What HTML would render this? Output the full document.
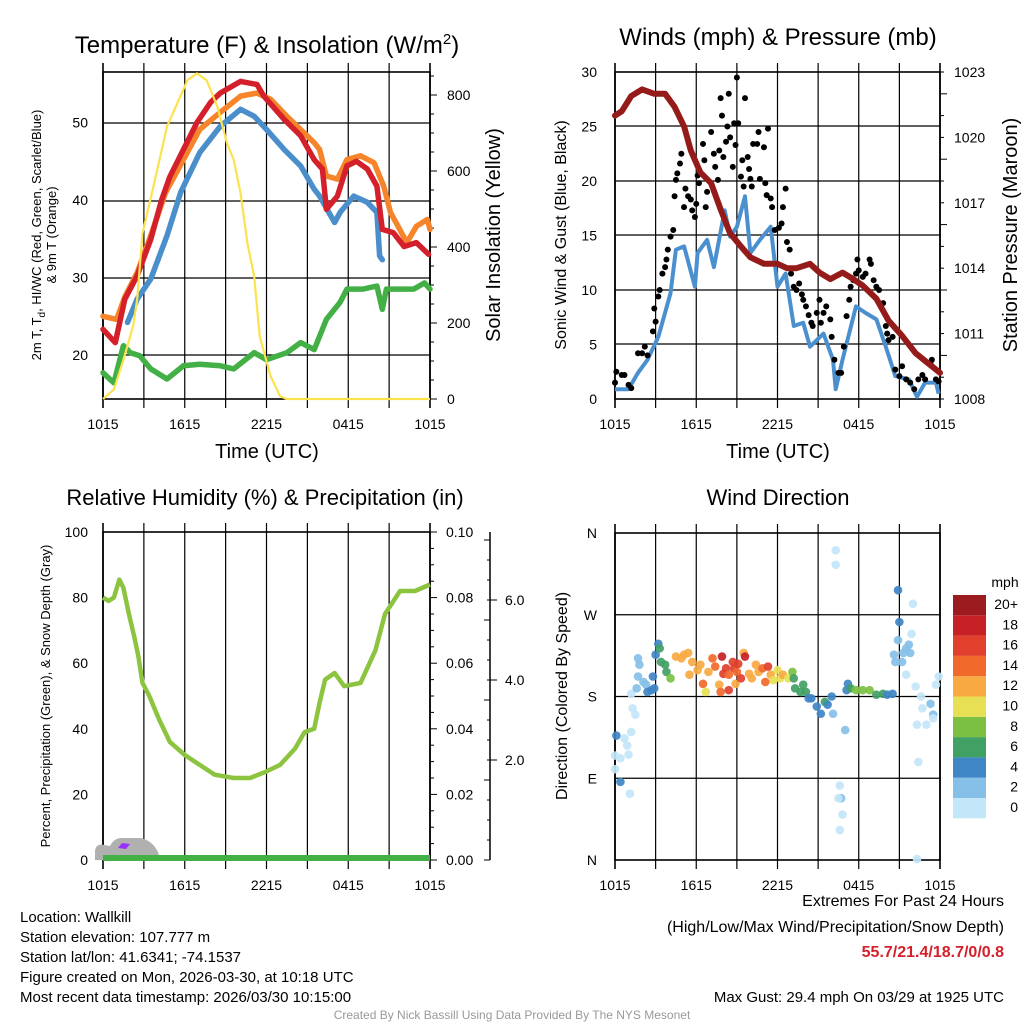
<!DOCTYPE html>
<html><head><meta charset="utf-8">
<style>
body{margin:0;background:#fff;}
svg{display:block;font-family:"Liberation Sans",Arial,sans-serif;}
</style></head>
<body>
<svg id="c" width="1024" height="1024" viewBox="0 0 1024 1024"></svg>
<script>
// ---------- DATA ----------
const tickHourLabels=["1015","1615","2215","0415","1015"];
const redHours=[0,0.9,1.6,2.5,3.5,4.3,4.9,5.9,6.9,7.9,8.6,10.1,11.3,11.8,13.3,14.5,15.5,16.1,16.4,17.2,17.9,18.6,19.4,20.1,20.5,21.3,22.1,23,23.9];
const redTemp=[23.3,21.6,27.2,30.2,34.9,40,43,46.5,50,52.6,53.8,55.3,54.9,53.4,50.4,48.3,45.2,44,38.8,40.5,44.4,45,44,41.8,36.2,35.8,34,34.5,33];
const orangeHours=[0,1,1.6,2.5,3.5,4.6,5.9,7.1,8.6,10.1,11.3,12.3,13.5,14.5,15.5,15.9,16.4,17.2,17.9,18.9,19.9,20.6,21.1,22.3,23,23.8,24];
const orangeTemp=[25,24.6,27.5,30.6,35.4,41,45.2,49.1,51.3,53.4,53.8,53,50.8,49.1,47.4,46.5,43.1,42.7,45.2,45.7,44.8,41.8,38.4,34.5,36.6,37.5,36.2];
const blueHours=[1.8,2.5,3.5,4.7,5.7,7.1,8.6,10.1,11.1,12,13.3,14.5,15.5,15.9,17,17.4,18.4,19.4,20.1,20.3,20.5];
const blueTemp=[24.2,27.2,29.8,35.4,41,46.1,49.5,51.7,50.8,49.1,46.5,44.4,41.4,40.5,37.1,38.4,40.5,39.7,38.4,32.8,32.3];
const greenHours=[0,0.8,1.5,2,2.7,3.5,4.7,5.9,7.1,8.6,9.6,11.1,12,13.5,14.5,15.5,16.4,17.4,17.9,19.1,20.1,20.5,20.8,21.8,22.8,23.6,24];
const greenTemp=[17.7,16.4,21.2,20.3,19.9,18.2,16.9,18.6,18.8,18.6,18.2,20.3,19.4,20.3,21.6,20.7,24.6,26.8,28.5,28.5,28.9,25.9,28.5,28.5,28.5,29.3,28.5];
const solarHours=[0,0.8,1.5,2.2,2.5,2.9,3.7,4.7,6.2,6.9,7.6,8.4,9.1,9.6,10.1,10.6,11.1,11.5,12.3,13,13.5,24];
const solarVals=[0,25,103,191,260,436,559,717,839,857,839,769,673,629,541,410,322,165,60,7,0,0];
const windHours=[0,1,1.7,2.4,3.2,4.1,4.5,5.1,5.9,6.1,6.8,7.3,8.1,8.5,9,9.6,10,10.7,11.5,12,12.6,13.2,13.9,14.4,15.4,16.1,16.3,16.8,17.8,18.5,19.3,20,20.7,21.7,22.3,22.9,23.7,23.9];
const windVals=[0.9,0.9,2.4,3.6,5.7,9.7,13.7,14,10.3,13.4,14.6,12.1,17.3,14.9,15.8,18.6,13.4,14.6,15.8,10.3,11.5,6.7,7,4.8,6,3.6,0.9,3.6,8.5,7.9,7.3,4.8,2.1,1.8,0.2,1.5,1.5,0.5];
const gustHours=[0,0.1,0.5,0.7,1,1.2,1.7,2,2.2,2.4,2.8,2.9,3,3.2,3.3,3.5,3.7,3.8,3.9,4.1,4.3,4.4,4.5,4.6,4.8,4.9,5.1,5.2,5.4,5.6,5.7,5.9,6,6.1,6.2,6.5,6.6,6.7,6.8,7.1,7.3,7.4,7.6,7.7,7.8,7.9,8,8.2,8.3,8.4,8.5,8.7,8.8,8.9,9,9.1,9.3,9.4,9.5,9.6,9.8,9.9,10,10.1,10.2,10.5,10.6,10.7,11,11.1,11.2,11.3,11.5,11.6,11.8,12.1,12.3,12.4,12.6,12.7,12.9,13,13.2,13.4,13.6,13.8,13.9,14.1,14.3,14.5,14.6,14.9,15.1,15.2,15.4,15.6,15.9,16,16.2,16.5,16.7,16.9,17.1,17.3,17.4,17.6,17.8,17.9,18,18.3,18.5,18.8,18.9,19.1,19.3,19.5,19.8,20,20.1,20.2,20.5,20.7,21,21.2,21.5,21.8,22.1,22.4,22.7,22.9,23.3,23.4,23.7,23.9];
const gustVals=[1.5,2.5,2.2,2.2,1.3,1,4.2,4.2,4.8,4,6.2,8.3,7.1,9.4,10,11.5,12.1,12.8,13.7,14.9,15.5,18.6,20.1,20.7,21.6,22.5,17.6,19.3,18.6,18.3,17.3,16.7,17.9,20.5,19.8,23.4,21.9,17.6,19,24.5,22.5,21.3,20.1,22.8,27.6,26,22.2,23.6,25,28,24,21.3,25.3,23.3,29.5,25.3,20.4,21.9,19.5,27.6,22.2,21.1,20.2,19.5,23.4,23.4,24.5,20.2,23.1,19.8,18.7,24.8,18.4,17.6,15.5,15.7,16.1,17.6,19.3,14.4,13.7,11.5,10.3,10,10.6,9.6,9.1,8.5,7.7,7,6.7,7.9,9.1,7,7.9,8.5,7.3,5.7,3.6,2.4,2.4,4.8,7.6,9.1,10.3,10.9,11.5,12.8,11.8,11.2,11.5,12.8,12.4,10.9,10.3,10,8.8,6.7,6,5.4,5.7,2.7,2.1,3,1.8,1.5,0.9,1.8,2.2,1.8,3.3,3.6,1.8,1.6];
const presHours=[0,0.5,1.2,2,2.9,3.7,4.4,5.1,5.6,6.3,7.1,7.8,8.5,9.3,10,11,12,12.7,13.4,14.4,15.1,15.9,16.8,17.6,18.3,19.3,20.2,21.2,22.2,23.2,24];
const presVals=[1021,1021.2,1021.9,1022.2,1022,1022,1021.4,1020.5,1019.4,1018.4,1017.9,1016.7,1015.6,1015,1014.5,1014.2,1014.2,1014,1014,1014.2,1013.8,1013.5,1013.8,1013.5,1013.2,1012.6,1011.6,1010.9,1010.1,1009.6,1009.2];
const rhHours=[0,0.4,0.8,1.2,1.5,1.9,2.3,2.6,2.9,3.4,4.1,4.9,6,7.1,8.2,9.6,10.8,12,13,14.1,14.8,15.5,15.9,16.3,17,17.7,18.9,20,20.7,21.8,22.9,24];
const rhVals=[80,79,80,85.5,83,75,68,62,54,50,43,36,32,29,26,25,25,27,29,34,39,40,48,55,57,53,54,64,75,82,82,84];
const dirHours=[0,0.1,0.4,1.1,0,0.4,0.7,0.9,1,1.2,1.3,1.5,1.2,1.6,1.7,1.8,1.7,2.1,2.3,2.4,2.7,2.8,2.9,3,3.2,3.3,3.4,3.7,3.8,4.1,4.5,4.9,5.1,5.4,5.5,5.7,6.1,6.3,6.5,6.7,6.9,7.2,7.4,7.7,7.8,7.9,8,8.2,8.4,8.4,8.7,8.8,8.9,9,9.1,9.3,9.5,9.6,9.9,10.1,10.4,10.6,10.9,11.1,11.3,11.5,11.7,12,12.2,12.4,12.8,13.1,13.2,13.3,13.7,13.9,14.1,14.3,14.5,14.9,15.2,15.5,15.7,16,16.1,16.3,16.3,17,16.6,16.7,16.8,16.6,16.5,17.2,17.1,17.4,17.8,18.3,18.8,19.3,19.8,20.1,20.5,20.9,21,20.9,20.6,20.7,21.3,21.2,21.5,21.8,21.7,22,21.9,21.5,22.2,22.6,22.7,22.3,23,23.3,23.5,23.7,23.9,22.4,22.3,23.5];
const dirDeg=[100,137,86,73,115,112,134,126,116,141,167,160,183,189,222,215,202,196,193,185,187,202,189,226,238,233,218,215,207,200,224,222,226,228,204,218,209,215,194,185,207,222,213,193,185,224,205,211,204,187,218,211,194,207,216,200,228,224,205,200,215,207,211,196,213,204,198,209,200,204,200,207,200,189,185,193,185,178,178,169,161,174,171,180,161,341,325,143,82,68,50,33,68,194,187,189,187,187,187,182,183,182,183,297,262,242,226,218,228,218,233,228,237,282,249,204,191,180,167,149,149,172,160,193,202,108,1,156];
const dirSpeed=[1,4,4,1,1,1,1,1,1,1,1,1,1,2,3,3,3,3,3,4,4,4,4,4,4,6,6,6,7,9,13,12,13,12,12,13,12,13,14,10,13,14,14,12,14,18,16,16,14,16,16,17,13,14,16,16,13,18,12,13,13,13,14,14,16,12,10,10,10,12,10,8,6,6,7,6,6,4,4,5,4,6,5,4,3,1,1,3,1,3,1,1,1,4,4,7,8,8,8,6,7,4,4,4,4,3,3,2,3,3,2,2,2,1,1,1,1,1,1,1,1,3,3,1,1,1,1,1];
const speedLabels=["0","2","4","6","8","10","12","14","16","18","20+"];
const speedColors=["#c3e6f8","#86c0e8","#3f86c6","#41a064","#7bc043","#e8e054","#f9a942","#f16a2b","#e0402c","#c62127","#9b1b1e"];

// ---------- HELPERS ----------
const NS="http://www.w3.org/2000/svg";
const svg=document.getElementById('c');
function el(tag,attrs,parent){const e=document.createElementNS(NS,tag);for(const k in attrs)e.setAttribute(k,attrs[k]);(parent||svg).appendChild(e);return e;}
function txt(x,y,s,size,anchor,parent,extra){const t=el('text',Object.assign({x:x,y:y,'font-size':size,'text-anchor':anchor||'middle',fill:'#000'},extra||{}),parent);t.textContent=s;return t;}
function mkX(L,R){return h=>L+(R-L)*h/24;}
function mkY(v0,v1,yb,yt){return v=>yb-(v-v0)*(yb-yt)/(v1-v0);}
function path(xs,ys,fx,fy){return xs.map((h,i)=>(i?'L':'M')+fx(h).toFixed(1)+','+fy(ys[i]).toFixed(1)).join('');}
function frame(g,L,R,T,B,hlines){
  for(let i=1;i<8;i++){const x=L+(R-L)*i/8;const l=el('line',{x1:x,x2:x,y1:T-9,y2:B+9,stroke:'#000','stroke-width':1.2},g);}
  hlines.forEach(y=>{const l=el('line',{x1:L,x2:R,y1:y,y2:y,stroke:'#000','stroke-width':1.2},g);});
  const r=el('rect',{x:L,y:T,width:R-L,height:B-T,fill:'none',stroke:'#000','stroke-width':1.6},g);
  
  [L,R].forEach(x=>{el('line',{x1:x,x2:x,y1:T-9,y2:B+9,stroke:'#000','stroke-width':1.6},g);});
  tickHourLabels.forEach((s,i)=>{const t=txt(L+(R-L)*i/4,B+30,s,14,'middle',g);});
}

// ---------- PANEL 1: Temperature ----------
(function(){
  const g=el('g',{});
  const L=103,R=430,T=72,B=399;
  const fx=mkX(L,R), fy=mkY(20,50,355,122.5), fs=mkY(0,800,399,95);
  frame(g,L,R,T,B,[123,201,278,355]);
  [20,30,40,50].forEach(v=>{const t=txt(88,fy(v)+5,String(v),14,'end',g);});
  [0,200,400,600,800].forEach(v=>{const y=fs(v);el('line',{x1:R,x2:R+7,y1:y,y2:y,stroke:'#000'},g);const t=txt(447,y+5,String(v),14,'start',g);});
  for(let v=50;v<=850;v+=50){const y=fs(v);el('line',{x1:R,x2:R+4,y1:y,y2:y,stroke:'#000'},g);}
  const series=[[greenHours,greenTemp,'#43b046','green-temp-line'],[blueHours,blueTemp,'#4a8fcb','blue-temp-line'],[orangeHours,orangeTemp,'#f5842b','orange-temp-line'],[redHours,redTemp,'#d4202a','red-temp-line']];
  series.forEach(s=>{const p=el('path',{d:path(s[0],s[1],fx,fy),fill:'none',stroke:s[2],'stroke-width':5.5,'stroke-linejoin':'round','stroke-linecap':'round'},g);});
  const sp=el('path',{d:path(solarHours,solarVals,fx,fs),fill:'none',stroke:'#fde24f','stroke-width':2.2},g);
  
  const t1=el('text',{x:267,y:53,'font-size':24,'text-anchor':'middle'},g);t1.innerHTML='Temperature (F) &amp; Insolation (W/m<tspan dy="-9" font-size="15">2</tspan><tspan dy="9">)</tspan>';
  
  const xt=txt(267,458,'Time (UTC)',20,'middle',g);
  const yl=el('text',{transform:'translate(41,235) rotate(-90)','font-size':13,'text-anchor':'middle'},g);yl.innerHTML='2m T, T<tspan dy="4" font-size="10">d</tspan><tspan dy="-4">, HI/WC (Red, Green, Scarlet/Blue)</tspan>';
  
  const yl2=el('text',{transform:'translate(56,235) rotate(-90)','font-size':13,'text-anchor':'middle'},g);yl2.textContent='& 9m T (Orange)';
  const yr=el('text',{transform:'translate(500,235) rotate(-90)','font-size':20,'text-anchor':'middle'},g);yr.textContent='Solar Insolation (Yellow)';
  
})();

// ---------- PANEL 2: Winds ----------
(function(){
  const g=el('g',{});
  const L=615,R=940,T=72,B=399;
  const fx=mkX(L,R), fy=mkY(0,30,399,72), fp=mkY(1008,1023,399,72);
  frame(g,L,R,T,B,[126,181,235,290,344]);
  [0,5,10,15,20,25,30].forEach(v=>{const t=txt(597,fy(v)+5,String(v),14,'end',g);});
  for(let v=1008;v<=1023;v++){const y=fp(v);el('line',{x1:R,x2:R+(v%3==2?7:4),y1:y,y2:y,stroke:'#000'},g);}
  [1008,1011,1014,1017,1020,1023].forEach(v=>{const t=txt(954,fp(v)+5,String(v),14,'start',g);});
  const wp=el('path',{d:path(windHours,windVals,fx,fy),fill:'none',stroke:'#4a90cf','stroke-width':4,'stroke-linejoin':'round'},g);
  
  gustHours.forEach((h,i)=>{const c=el('circle',{cx:fx(h),cy:fy(gustVals[i]),r:3,fill:'#000'},g);});
  const pp=el('path',{d:path(presHours,presVals,fx,fp),fill:'none',stroke:'#951b1b','stroke-width':6,'stroke-linejoin':'round','stroke-linecap':'round'},g);
  
  const t=txt(778,45,'Winds (mph) & Pressure (mb)',24,'middle',g);
  const xt=txt(778,458,'Time (UTC)',20,'middle',g);
  const yl=el('text',{transform:'translate(566,235) rotate(-90)','font-size':16,'text-anchor':'middle'},g);yl.textContent='Sonic Wind & Gust (Blue, Black)';
  
  const yr=el('text',{transform:'translate(1017,235) rotate(-90)','font-size':20,'text-anchor':'middle'},g);yr.textContent='Station Pressure (Maroon)';
  
})();

// ---------- PANEL 3: RH ----------
(function(){
  const g=el('g',{});
  const L=103,R=430,T=532,B=860;
  const fx=mkX(L,R), fy=mkY(0,100,860,532);
  frame(g,L,R,T,B,[]);
  [0,20,40,60,80,100].forEach(v=>{const t=txt(88,fy(v)+5,String(v),14,'end',g);});
  for(let i=0;i<=20;i++){const y=fy(i*5);el('line',{x1:R,x2:R+(i%4==0?7:4),y1:y,y2:y,stroke:'#000'},g);}
  ["0.00","0.02","0.04","0.06","0.08","0.10"].forEach((s,i)=>{const t=txt(446,fy(i*20)+5,s,14,'start',g);});
  el('line',{x1:490,x2:490,y1:532,y2:860,stroke:'#000','stroke-width':1.5},g);
  for(let i=0;i<=16;i++){const y=860-i*20;el('line',{x1:490,x2:(i%4==0?484:487),y1:y,y2:y,stroke:'#000'},g);}
  [["2.0",760],["4.0",680],["6.0",600]].forEach(a=>{el('line',{x1:490,x2:497,y1:a[1],y2:a[1],stroke:'#000'},g);const t=txt(505,a[1]+5,a[0],14,'start',g);});
  const blob=el('path',{d:'M95,860 L95,850 Q97,843 104,845 L110,846 Q114,838 122,838 L140,838 Q152,840 158,852 L160,860 Z',fill:'#b0b0b0'},g);
  
  el('path',{d:'M118,848 L122,843 L130,844 L126,849 Z',fill:'#9b30ff'},g);
  const pr=el('line',{x1:L,x2:R,y1:858,y2:858,stroke:'#43b046','stroke-width':6},g);
  
  const rp=el('path',{d:path(rhHours,rhVals,fx,fy),fill:'none',stroke:'#8cc43f','stroke-width':4.5,'stroke-linejoin':'round'},g);
  
  const t=txt(265,505,'Relative Humidity (%) & Precipitation (in)',22,'middle',g);
  const yl=el('text',{transform:'translate(50,696) rotate(-90)','font-size':13,'text-anchor':'middle'},g);yl.textContent='Percent, Precipitation (Green), & Snow Depth (Gray)';
  
})();

// ---------- PANEL 4: Wind direction ----------
(function(){
  const g=el('g',{});
  const L=615,R=940,T=533,B=860;
  const fx=mkX(L,R), fy=mkY(0,360,860,533);
  frame(g,L,R,T,B,[fy(90),fy(180),fy(270)]);
  ["N","E","S","W","N"].forEach((s,i)=>{const t=txt(597,fy(i*90)+5,s,14,'end',g);});
  dirHours.forEach((h,i)=>{const b=Math.min(10,Math.floor(dirSpeed[i]/2));const c=el('circle',{cx:fx(h),cy:fy(dirDeg[i]),r:4.3,fill:speedColors[b],'fill-opacity':0.92},g);});
  const t=txt(778,505,'Wind Direction',22,'middle',g);
  const yl=el('text',{transform:'translate(567,696) rotate(-90)','font-size':16,'text-anchor':'middle'},g);yl.textContent='Direction (Colored By Speed)';
  
  const cb=el('g',{},g);
  speedColors.forEach((c,i)=>{const y=798-i*20.3;const r=el('rect',{x:953,y:y,width:33,height:20.3,fill:c},cb);
    const t=txt(1018,y+14,speedLabels[i],14,'end',cb);});
  txt(1005,587,'mph',14,'middle',cb);
})();

// ---------- FOOTER ----------
(function(){
  const g=el('g',{});
  ["Location: Wallkill","Station elevation: 107.777 m","Station lat/lon: 41.6341; -74.1537","Figure created on Mon, 2026-03-30, at 10:18 UTC","Most recent data timestamp: 2026/03/30 10:15:00"].forEach((s,i)=>{const t=txt(20,922+i*20,s,15,'start',g);});
  const a=txt(1004,906,'Extremes For Past 24 Hours',16,'end',g);
  a.setAttribute('y',906);
  const b=txt(1004,932,'(High/Low/Max Wind/Precipitation/Snow Depth)',16,'end',g);
  const c=txt(1004,957,'55.7/21.4/18.7/0/0.8',16,'end',g,{fill:'#d4202a','font-weight':'bold'});
  const d=txt(1004,1002,'Max Gust: 29.4 mph On 03/29 at 1925 UTC',15,'end',g);
  const e=txt(512,1019,'Created By Nick Bassill Using Data Provided By The NYS Mesonet',12,'middle',g,{fill:'#999'});
})();
</script>
</body></html>
